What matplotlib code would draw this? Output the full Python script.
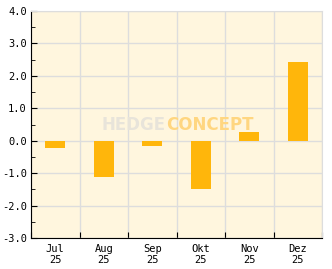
import numpy as np
from matplotlib import pyplot as plt
from matplotlib.ticker import MultipleLocator

# %% data

monate = ['Jul\n25', 'Aug\n25', 'Sep\n25', 'Okt\n25', 'Nov\n25', 'Dez\n25']
werte = [-0.22, -1.11, -0.15, -1.50, 0.28, 2.44]

# %% plot

plt.rc('font', family='DejaVu Sans Mono', size=7.5)

fig = plt.figure(figsize=(3.32, 2.69), dpi=100)
ax = fig.add_axes([31 / 332, 31 / 269, 291 / 332, 227 / 269])
ax.set_facecolor('#fff6de')

x = np.arange(len(monate))
ax.bar(x, werte, width=0.42, color='#ffb60b', zorder=3)

ax.set_xlim(-0.5, len(monate) - 0.5)
ax.set_ylim(-3, 4)
ax.yaxis.set_major_locator(MultipleLocator(1))
ax.yaxis.set_minor_locator(MultipleLocator(0.5))
ax.set_yticklabels([f'{v:.1f}' for v in ax.get_yticks()])

# ticks on boundaries, labels centered
ax.set_xticks(np.arange(len(monate) + 1) - 0.5)
ax.set_xticklabels([])
ax.set_xticks(x, minor=True)
ax.set_xticklabels(monate, minor=True)
ax.tick_params(axis='x', which='minor', length=0, pad=4)
ax.tick_params(axis='x', which='major', direction='in', length=4, color='black')
ax.tick_params(axis='y', which='both', direction='in', length=4, pad=3)
ax.tick_params(axis='y', which='minor', length=3)

ax.grid(True, which='major', color='#dddddd', lw=1, zorder=0)
for s in ['top', 'right']:
    ax.spines[s].set_color('#dddddd')
for s in ['left', 'bottom']:
    ax.spines[s].set_color('black')

# watermark
ax.text(0.464, 0.50, 'HEDGE', transform=ax.transAxes, ha='right', va='center',
        fontsize=12, fontweight='bold', family='DejaVu Sans', color='#e8e4da',
        zorder=2)
ax.text(0.464, 0.50, 'CONCEPT', transform=ax.transAxes, ha='left', va='center',
        fontsize=12, fontweight='bold', family='DejaVu Sans', color='#ffd680',
        zorder=2)

plt.savefig('out.png', dpi=100)
